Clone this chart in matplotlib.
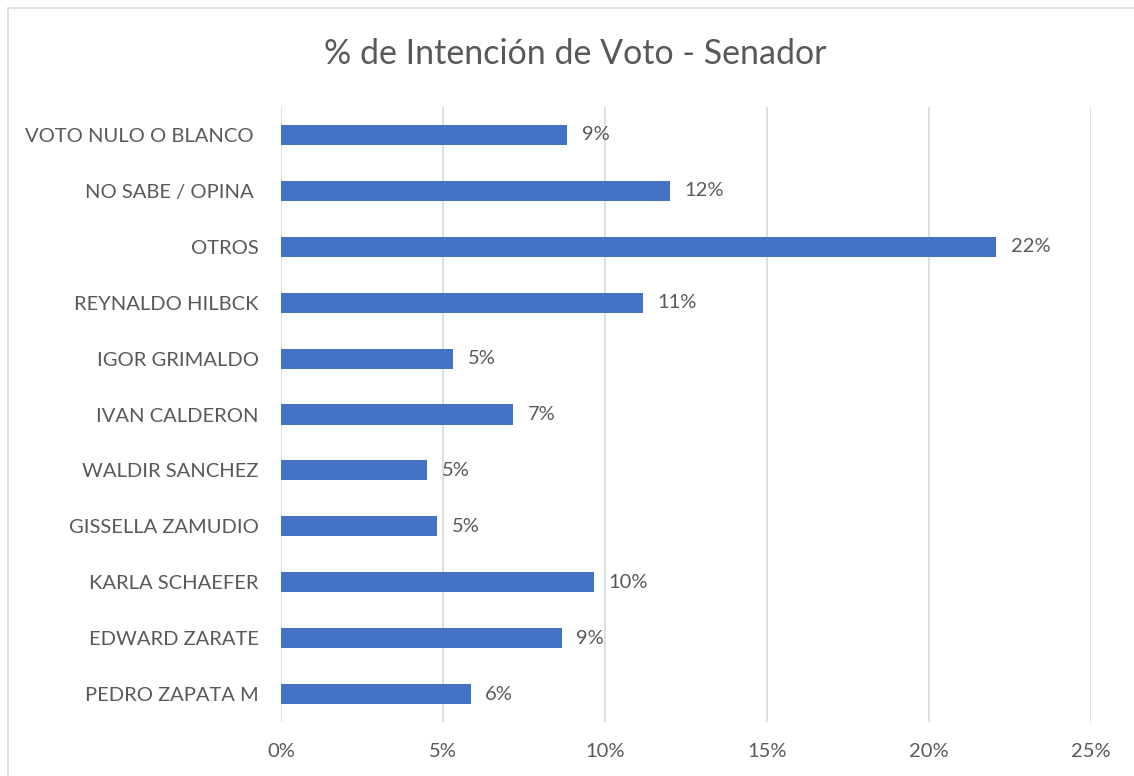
import matplotlib.pyplot as plt
from matplotlib.patches import Rectangle

# Data (bottom to top)
candidatos = ['PEDRO ZAPATA M', 'EDWARD ZARATE', 'KARLA SCHAEFER', 'GISSELLA ZAMUDIO',
              'WALDIR SANCHEZ', 'IVAN CALDERON', 'IGOR GRIMALDO', 'REYNALDO HILBCK',
              'OTROS', 'NO SABE / OPINA ', 'VOTO NULO O BLANCO ']
intencion = [5.85, 8.66, 9.66, 4.81, 4.52, 7.16, 5.32, 11.18, 22.07, 12.01, 8.84]
ticks = [0, 5, 10, 15, 20, 25]

plt.rcParams['font.family'] = ['Lato', 'DejaVu Sans']
gris = '#595959'
azul = '#4472C4'

fig = plt.figure(figsize=(11.34, 7.76), dpi=100)
ax = fig.add_axes([0.2478, 0.0696, 0.7143, 0.7925])

# chart border
fig.patches.append(Rectangle((8 / 1134, -0.01), 1.02, 1 - 8 / 776 + 0.01,
                             transform=fig.transFigure, fill=False,
                             edgecolor='#d9d9d9', linewidth=1.2))

y = range(len(candidatos))
ax.barh(y, intencion, height=0.36, color=azul, zorder=3)
for i, v in enumerate(intencion):
    ax.text(v + 0.45, i, f'{v:.0f}%', va='center', ha='left', fontsize=14.5, color=gris)

ax.set_xlim(0, 25)
ax.set_ylim(-0.5, len(candidatos) - 0.5)
ax.set_xticks(ticks)
ax.set_xticklabels([f'{t}%' for t in ticks], fontsize=14.5, color=gris)
ax.set_yticks(list(y))
ax.set_yticklabels(candidatos, fontsize=14.5, color=gris)
ax.tick_params(length=0)
ax.tick_params(axis='y', pad=16)
ax.tick_params(axis='x', pad=15)
ax.grid(axis='x', color='#d9d9d9', linewidth=1.2, zorder=0)
for s in ax.spines.values():
    s.set_visible(False)

fig.text(0.507, 0.93, '% de Intención de Voto - Senador', ha='center', va='center',
         fontsize=24.5, color=gris)

fig.savefig('out.png', dpi=100)
